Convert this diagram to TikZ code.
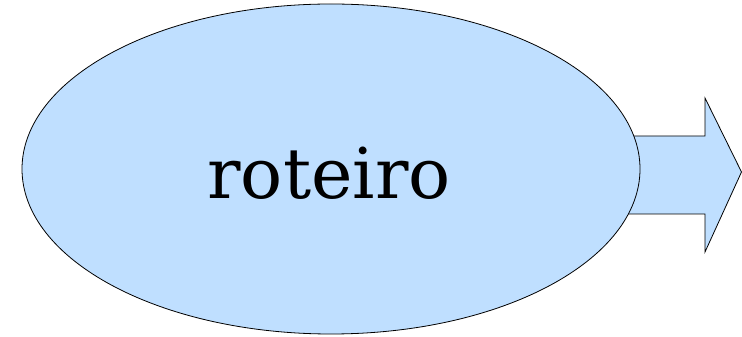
\documentclass[tikz,border=0pt]{standalone}
\usepackage{fontspec}
\usetikzlibrary{shapes.geometric}
\newfontfamily\labelfont{DejaVu Serif}
\definecolor{shapefill}{RGB}{191,223,255}
\begin{document}
\begin{tikzpicture}[x=1pt,y=1pt,
  shapestyle/.style={fill=shapefill,draw=black,line width=0.8pt,line join=miter}]
\useasboundingbox (0,0) rectangle (742,337);
\coordinate (a1) at (620,201);
\coordinate (a2) at (705,201);
\coordinate (a3) at (705,239);
\coordinate (a4) at (741.5,165);
\coordinate (a5) at (705,85);
\coordinate (a6) at (705,123);
\coordinate (a7) at (620,123);
\draw[shapestyle] (a1) -- (a2) -- (a3) -- (a4) -- (a5) -- (a6) -- (a7) -- cycle;
\node[shapestyle,ellipse,minimum width=618pt,minimum height=330pt,inner sep=0pt] (ell) at (331,168) {};
\node[inner sep=0pt,font=\labelfont\fontsize{70}{80}\selectfont] (lbl) at (329,164) {roteiro};
\end{tikzpicture}
\end{document}
